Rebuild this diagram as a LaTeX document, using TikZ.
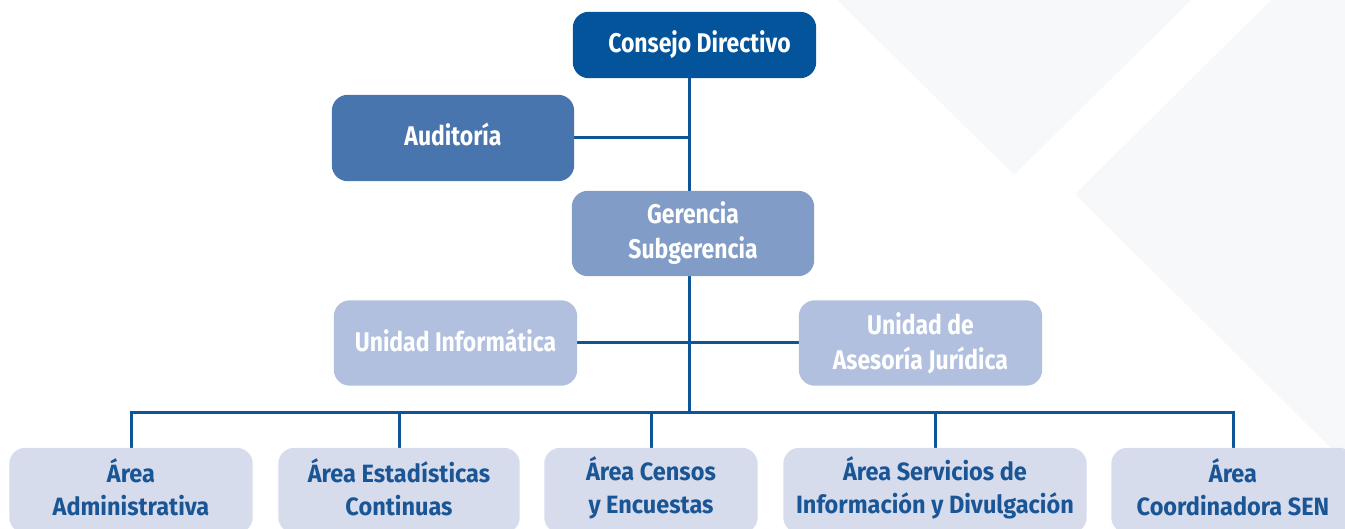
\documentclass[tikz,border=0pt]{standalone}
\usepackage{fontspec}
\newfontfamily\orgfont{Fira Sans}[FakeStretch=0.85]
\newfontfamily\areafont{Fira Sans}[FakeStretch=0.94]
\definecolor{cDir}{HTML}{03549A}
\definecolor{cAud}{HTML}{4875AE}
\definecolor{cGer}{HTML}{809CC7}
\definecolor{cUni}{HTML}{B1C0DE}
\definecolor{cArea}{HTML}{D6DCEC}
\definecolor{cLine}{HTML}{0E5597}
\definecolor{cTxt}{HTML}{1A5595}
\definecolor{cBg}{HTML}{F7F8FA}
\tikzset{
  orgbox/.style={rounded corners=16pt, inner sep=0pt, align=center, minimum height=85pt},
  toptext/.style={font={\orgfont\bfseries\fontsize{27}{35}\selectfont}, text=white},
  areatext/.style={font={\areafont\bfseries\fontsize{25}{33}\selectfont}, text=cTxt},
  link/.style={draw=cLine, line width=3pt},
}
\begin{document}
\begin{tikzpicture}[x=1pt,y=-1pt]
\clip (0,0) rectangle (1345,529);
% background shapes
\fill[cBg] (837,0) -- (1191,0) -- (1014,175) -- cycle;
\fill[cBg] (1271,0) -- (1345,0) -- (1345,462) -- (1075,194) -- cycle;
% spine coordinate
\coordinate (bus) at (689,412.5);
% box outlines (named), connectors drawn behind the filled boxes
\node[orgbox, minimum width=243pt, minimum height=66pt] (consejo) at (694.5,45) {};
\node[orgbox, minimum width=242pt, minimum height=86pt] (audit) at (453,138) {};
\node[orgbox, minimum width=242pt] (geren) at (693,233.5) {};
\node[orgbox, minimum width=243pt] (uinf) at (455.5,343) {};
\node[orgbox, minimum width=243pt] (ujur) at (920.5,343) {};
\node[orgbox, minimum width=243pt] (admin) at (131,490.5) {};
\node[orgbox, minimum width=241pt] (estad) at (399,490.5) {};
\node[orgbox, minimum width=213pt] (censos) at (651,490.5) {};
\node[orgbox, minimum width=303pt] (serv) at (935,490.5) {};
\node[orgbox, minimum width=243pt] (coord) at (1233,490.5) {};
\draw[link] (consejo.south -| bus) -- (bus);
\draw[link] (audit.east) -- (audit.east -| bus);
\draw[link] (uinf.east) -- (ujur.west);
\draw[link] (admin.north) |- (bus);
\draw[link] (coord.north) |- (bus);
\draw[link] (estad.north) -- (estad.north |- bus);
\draw[link] (censos.north) -- (censos.north |- bus);
\draw[link] (serv.north) -- (serv.north |- bus);
% boxes
\fill[cDir, rounded corners=16pt] (consejo.south west) rectangle (consejo.north east);
\fill[cAud, rounded corners=16pt] (audit.south west) rectangle (audit.north east);
\fill[cGer, rounded corners=16pt] (geren.south west) rectangle (geren.north east);
\fill[cUni, rounded corners=16pt] (uinf.south west) rectangle (uinf.north east);
\fill[cUni, rounded corners=16pt] (ujur.south west) rectangle (ujur.north east);
\foreach \b in {admin,estad,censos,serv,coord}
  \fill[cArea, rounded corners=16pt] (\b.south west) rectangle (\b.north east);
% texts
\node[toptext, align=center, xshift=5pt] (tconsejo) at (consejo) {Consejo Directivo};
\node[toptext, align=center, yshift=4pt] (taudit) at (audit) {Auditoría};
\node[toptext, align=center] (tgeren) at (geren) {Gerencia\\Subgerencia};
\node[toptext, align=center, yshift=3pt] (tuinf) at (uinf) {Unidad Informática};
\node[toptext, align=center] (tujur) at (ujur) {Unidad de\\Asesoría Jurídica};
\node[areatext, align=center, yshift=3pt] (tadmin) at (admin) {Área\\Administrativa};
\node[areatext, align=center, yshift=3pt] (testad) at (estad) {Área Estadísticas\\Continuas};
\node[areatext, align=center, yshift=3pt] (tcensos) at (censos) {Área Censos\\y Encuestas};
\node[areatext, align=center, yshift=3pt] (tserv) at (serv) {Área Servicios de\\Información y Divulgación};
\node[areatext, align=center, yshift=3pt] (tcoord) at (coord) {Área\\Coordinadora SEN};
\end{tikzpicture}
\end{document}
